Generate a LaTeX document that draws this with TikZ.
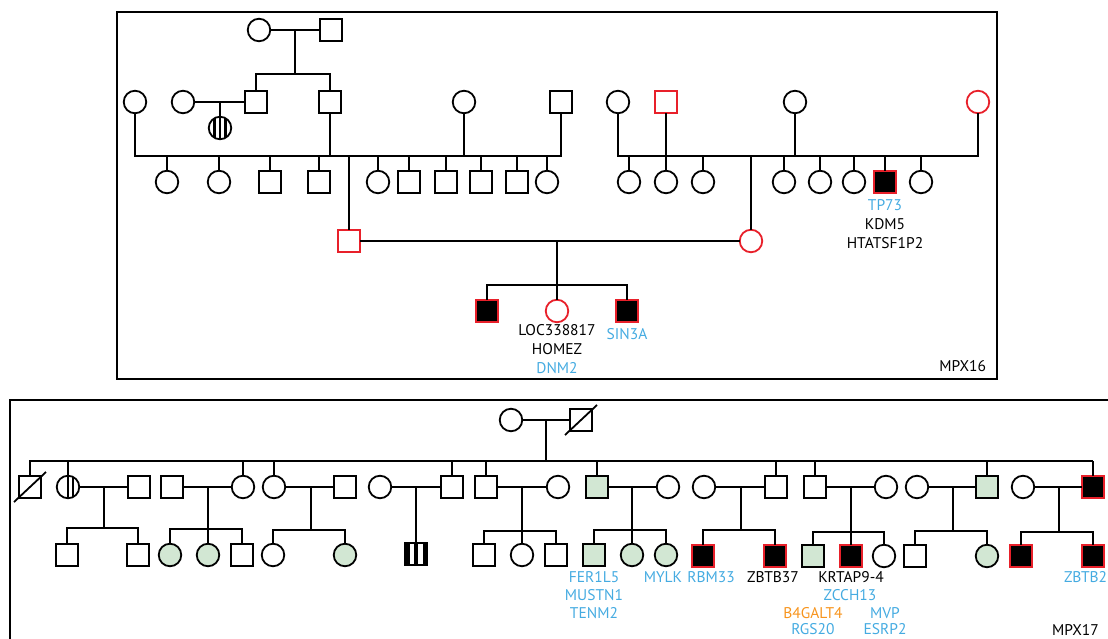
\documentclass[tikz,border=0pt]{standalone}
\usepackage{fontspec}
\setmainfont{PT Sans}
\definecolor{pedred}{HTML}{E8202A}
\definecolor{pedblue}{HTML}{45ABE1}
\definecolor{pedorange}{HTML}{F7941D}
\definecolor{pedgreen}{HTML}{D2E7D3}
\begin{document}
\begin{tikzpicture}[x=1pt,y=-1pt,
  lw/.style={line width=1.8pt},
  every node/.style={inner sep=0pt,outer sep=0pt},
  ma/.style={draw,lw,rectangle,minimum size=22pt,fill=white},
  fe/.style={draw,lw,circle,minimum size=22.5pt,fill=white},
  rd/.style={draw=pedred},
  af/.style={fill=black,draw=pedred},
  gr/.style={fill=pedgreen},
  lab/.style={font=\fontsize{15.5}{18}\selectfont,text=black},
  bl/.style={lab,text=pedblue},
  og/.style={lab,text=pedorange},
  striped/.style={path picture={\foreach \dx in {-5.5,0,5.5}{\fill[black] ([shift={(\dx-1.4,-13)}]path picture bounding box.center) rectangle ([shift={(\dx+1.4,13)}]path picture bounding box.center);}}},
  halfstripe/.style={path picture={\foreach \dx in {0,5}{\draw[line width=1.4pt] ([shift={(\dx,-13)}]path picture bounding box.center) -- ([shift={(\dx,13)}]path picture bounding box.center);}}},
  sqstripe/.style={fill=black,path picture={\foreach \dx in {-4.4,4.4}{\fill[white] ([shift={(\dx-2.1,-13)}]path picture bounding box.center) rectangle ([shift={(\dx+2.1,13)}]path picture bounding box.center);}}}
]
\useasboundingbox (0,0) rectangle (1108,639);
\clip (0,0) rectangle (1108,639);

% ================= MPX16 =================
\draw[lw] (117,12) rectangle (997,379);
\node[fe] (a1) at (259,30) {};
\node[ma] (a2) at (331,30) {};
\coordinate (a12) at (295,30);
\coordinate (a12s) at (295,74);
\node[fe] (b1) at (135,102) {};
\node[fe] (b2) at (183,102) {};
\node[ma] (b3) at (256,102) {};
\node[ma] (b4) at (330,102) {};
\node[fe] (b5) at (464,102) {};
\node[ma] (b6) at (561,102) {};
\draw[lw] (a1) -- (a2);
\draw[lw] (a12) -- (a12s);
\draw[lw] (b3.north) |- (a12s) -| (b4.north);
\draw[lw] (b2) -- (b3);
\coordinate (b23) at (220,102);
\node[fe,striped] (s1) at (220,128) {};
\draw[lw] (b23) -- (s1);

\coordinate (L1) at (135,156);
\coordinate (R1) at (561,156);
\draw[lw] (b1) -- (L1) -- (R1) -- (b6);
\draw[lw] (b4) -- (b4|-L1);
\draw[lw] (b5) -- (b5|-L1);
\node[fe] (c1) at (167,182) {};
\node[fe] (c2) at (219,182) {};
\node[ma] (c3) at (270,182) {};
\node[ma] (c4) at (319,182) {};
\node[fe] (c5) at (378,182) {};
\node[ma] (c6) at (409,182) {};
\node[ma] (c7) at (446,182) {};
\node[ma] (c8) at (481,182) {};
\node[ma] (c9) at (517,182) {};
\node[fe] (c10) at (547,182) {};
\foreach \n in {c1,c2,c3,c4,c5,c6,c7,c8,c9,c10} {\draw[lw] (\n) -- (\n|-L1);}
\coordinate (P1) at (349,156);
\node[ma,rd] (P) at (349,241) {};
\draw[lw] (P1) -- (P);

\node[fe] (d1) at (618,102) {};
\node[ma,rd] (d2) at (666,102) {};
\node[fe] (d3) at (795,102) {};
\node[fe,rd] (d4) at (978,102) {};
\coordinate (L2) at (618,156);
\coordinate (R2) at (978,156);
\draw[lw] (d1) -- (L2) -- (R2) -- (d4);
\draw[lw] (d3) -- (d3|-L2);
\node[fe] (e1) at (629,182) {};
\node[fe] (e2) at (666,182) {};
\node[fe] (e3) at (703,182) {};
\node[fe] (e4) at (784,182) {};
\node[fe] (e5) at (820,182) {};
\node[fe] (e6) at (854,182) {};
\node[ma,af] (e7) at (885,182) {};
\node[fe] (e8) at (921,182) {};
\foreach \n in {e1,e3,e4,e5,e6,e7,e8} {\draw[lw] (\n) -- (\n|-L2);}
\draw[lw] (d2) -- (e2);
\coordinate (Q1) at (751,156);
\node[fe,rd] (Q) at (751,241) {};
\draw[lw] (Q1) -- (Q);

\draw[lw] (P) -- (Q);
\coordinate (PQ) at (557,241);
\coordinate (PQs) at (557,285);
\node[ma,af] (g1) at (487,311) {};
\node[fe,rd] (g2) at (557,311) {};
\node[ma,af] (g3) at (627,311) {};
\draw[lw] (PQ) -- (PQs);
\draw[lw] (g1.north) |- (PQs) -| (g3.north);
\draw[lw] (g2) -- (PQs);

\node[bl] (t1) at (885,205) {TP73};
\node[lab] (t2) at (885,224) {KDM5};
\node[lab] (t3) at (885,243) {HTATSF1P2};
\node[lab] (t4) at (557,330) {LOC338817};
\node[lab] (t5) at (557,349) {HOMEZ};
\node[bl] (t6) at (557,368) {DNM2};
\node[bl] (t7) at (627,334) {SIN3A};
\node[lab,anchor=east] (t8) at (986,366) {MPX16};

% ================= MPX17 =================
\draw[lw] (10,400) rectangle (1130,700);
\node[fe] (h1) at (511,420) {};
\node[ma] (h2) at (581,420) {};
\draw[lw] ([shift={(-16,15)}]h2.center) -- ([shift={(16,-15)}]h2.center);
\coordinate (h12) at (546,420);
\coordinate (H) at (546,461);
\draw[lw] (h1) -- (h2);
\draw[lw] (h12) -- (H);
\coordinate (HL) at (29,461);
\coordinate (HR) at (1093,461);
\draw[lw] (HL) -- (HR);

% generation II
\node[ma] (i1) at (30,487) {};
\draw[lw] ([shift={(-16,15)}]i1.center) -- ([shift={(16,-15)}]i1.center);
\node[fe,halfstripe] (i2) at (68,487) {};
\node[ma] (i3) at (139,487) {};
\node[ma] (i4) at (172,487) {};
\node[fe] (i5) at (243,487) {};
\node[fe] (i6) at (274,487) {};
\node[ma] (i7) at (345,487) {};
\node[fe] (i8) at (380,487) {};
\node[ma] (i9) at (452,487) {};
\node[ma] (i10) at (486,487) {};
\node[fe] (i11) at (558,487) {};
\node[ma,gr] (i12) at (597,487) {};
\node[fe] (i13) at (668,487) {};
\node[fe] (i14) at (704,487) {};
\node[ma] (i15) at (776,487) {};
\node[ma] (i16) at (815,487) {};
\node[fe] (i17) at (886,487) {};
\node[fe] (i18) at (917,487) {};
\node[ma,gr] (i19) at (987,487) {};
\node[fe] (i20) at (1023,487) {};
\node[ma,af] (i21) at (1093,487) {};
\foreach \n in {i1,i2,i5,i6,i9,i10,i12,i15,i16,i19,i21} {\draw[lw] (\n) -- (\n|-H);}
\draw[lw] (i2) -- (i3);
\draw[lw] (i4) -- (i5);
\draw[lw] (i6) -- (i7);
\draw[lw] (i8) -- (i9);
\draw[lw] (i10) -- (i11);
\draw[lw] (i12) -- (i13);
\draw[lw] (i14) -- (i15);
\draw[lw] (i16) -- (i17);
\draw[lw] (i18) -- (i19);
\draw[lw] (i20) -- (i21);

% generation III
\node[ma] (j1) at (67,555) {};
\node[ma] (j2) at (138,555) {};
\coordinate (m1) at (104,487); \coordinate (m1s) at (104,528);
\draw[lw] (m1) -- (m1s);
\draw[lw] (j1.north) |- (m1s) -| (j2.north);

\node[fe,gr] (j3) at (170,555) {};
\node[fe,gr] (j4) at (208,555) {};
\node[ma] (j5) at (242,555) {};
\coordinate (m2) at (208,487); \coordinate (m2s) at (208,529);
\draw[lw] (m2) -- (m2s);
\draw[lw] (j3.north) |- (m2s) -| (j5.north);
\draw[lw] (j4) -- (m2s);

\node[fe] (j6) at (273,555) {};
\node[fe,gr] (j7) at (345,555) {};
\coordinate (m3) at (311,487); \coordinate (m3s) at (311,530);
\draw[lw] (m3) -- (m3s);
\draw[lw] (j6.north) |- (m3s) -| (j7.north);

\coordinate (m4) at (416,487);
\node[ma,sqstripe] (j8) at (416,554) {};
\draw[lw] (m4) -- (j8);

\node[ma] (j9) at (484,555) {};
\node[fe] (j10) at (522,555) {};
\node[ma] (j11) at (556,555) {};
\coordinate (m5) at (522,487); \coordinate (m5s) at (522,531);
\draw[lw] (m5) -- (m5s);
\draw[lw] (j9.north) |- (m5s) -| (j11.north);
\draw[lw] (j10) -- (m5s);

\node[ma,gr] (j12) at (594,555) {};
\node[fe,gr] (j13) at (632,555) {};
\node[fe,gr] (j14) at (666,555) {};
\coordinate (m6) at (632,487); \coordinate (m6s) at (632,530);
\draw[lw] (m6) -- (m6s);
\draw[lw] (j12.north) |- (m6s) -| (j14.north);
\draw[lw] (j13) -- (m6s);

\node[ma,af] (j15) at (703,556) {};
\node[ma,af] (j16) at (775,556) {};
\coordinate (m7) at (741,487); \coordinate (m7s) at (741,530);
\draw[lw] (m7) -- (m7s);
\draw[lw] (j15.north) |- (m7s) -| (j16.north);

\node[ma,gr] (j17) at (813,556) {};
\node[ma,af] (j18) at (851,556) {};
\node[fe] (j19) at (884,556) {};
\coordinate (m8) at (851,487); \coordinate (m8s) at (851,532);
\draw[lw] (m8) -- (m8s);
\draw[lw] (j17.north) |- (m8s) -| (j19.north);
\draw[lw] (j18) -- (m8s);

\node[ma] (j20) at (915,556) {};
\node[fe,gr] (j21) at (987,556) {};
\coordinate (m9) at (953,487); \coordinate (m9s) at (953,531);
\draw[lw] (m9) -- (m9s);
\draw[lw] (j20.north) |- (m9s) -| (j21.north);

\node[ma,af] (j22) at (1021,556) {};
\node[ma,af] (j23) at (1093,556) {};
\coordinate (m10) at (1059,487); \coordinate (m10s) at (1059,532);
\draw[lw] (m10) -- (m10s);
\draw[lw] (j22.north) |- (m10s) -| (j23.north);

% labels
\node[bl] (u1) at (594,577) {FER1L5};
\node[bl] (u2) at (594,595) {MUSTN1};
\node[bl] (u3) at (594,613) {TENM2};
\node[bl] (u4) at (663,577) {MYLK};
\node[bl] (u5) at (711,577) {RBM33};
\node[lab] (u6) at (773,577) {ZBTB37};
\node[lab] (u7) at (851,577) {KRTAP9-4};
\node[bl] (u8) at (850,595) {ZCCH13};
\node[og] (u9) at (813,613) {B4GALT4};
\node[bl] (u10) at (885,613) {MVP};
\node[bl] (u11) at (813,629) {RGS20};
\node[bl] (u12) at (885,629) {ESRP2};
\node[bl,anchor=west] (u13) at (1064,577) {ZBTB2};
\node[lab,anchor=west] (u14) at (1052,630) {MPX17};
\end{tikzpicture}
\end{document}
